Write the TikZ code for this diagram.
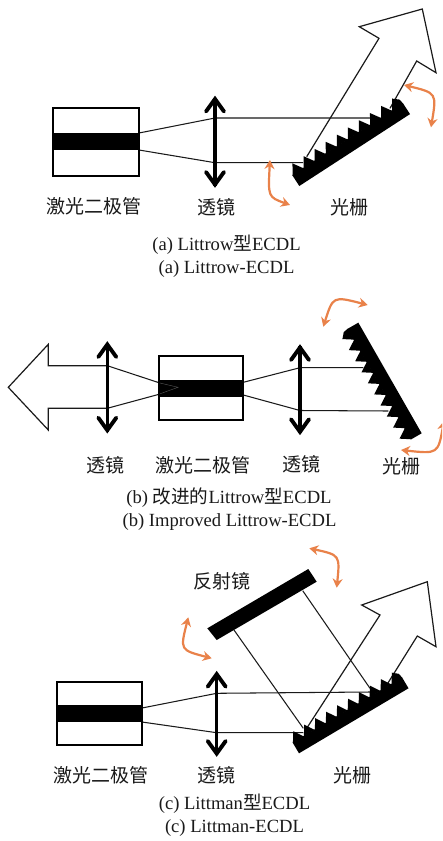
\documentclass[tikz,border=0pt]{standalone}
\usepackage{fontspec}
\setmainfont{Liberation Serif}
\newfontfamily\cjkfont{Noto Sans CJK SC}
\usetikzlibrary{arrows.meta}
\definecolor{swing}{HTML}{E9824A}
\definecolor{ink}{HTML}{1A1A1A}
\newcommand{\gratingat}[4]{% x, y, angle, scale
  \begin{scope}[shift={(#1,#2)},rotate=#3,scale=#4]
    \fill[black] (0,0) -- (132,0) -- (132,-13) -- (131,-18) -- (125.4,-22.7) -- (125,-13) -- (0,-13) -- cycle;
    \foreach \tipx in {6.6,19.8,33,46.2,59.4,72.6,85.8,99,112.2,125.4}{
      \fill[black] (\tipx-6.5,-12.5) -- (\tipx,-22.7) -- (\tipx+6.6,-12.5) -- cycle;
    }
  \end{scope}
}
\newcommand{\lensat}[3]{% x, top, bottom
  \draw[lensline] (#1,#2) -- (#1,#3);
  \draw[lenshead] (#1-9,#2+14) -- (#1,#2+1.5) -- (#1+9,#2+14);
  \draw[lenshead] (#1-9,#3-14) -- (#1,#3-1.5) -- (#1+9,#3-14);
}
\newcommand{\diodeat}[6]{% x0,y0,x1,y1,bandtop,bandbottom
  \fill[black] (#1,#5) rectangle (#3,#6);
  \draw[diode] (#1,#2) rectangle (#3,#4);
}
\tikzset{
  beam/.style={draw=ink,line width=1.05pt,line join=miter},
  outarrow/.style={draw=ink,line width=1.2pt,fill=white,line join=miter},
  lensline/.style={black,line width=3.2pt},
  lenshead/.style={black,line width=3.9pt,line cap=round,line join=miter},
  diode/.style={black,line width=2.2pt},
  swingarrow/.style={draw=swing,line width=2.2pt,{Stealth[length=9pt,width=10pt]}-{Stealth[length=9pt,width=10pt]}},
  zh/.style={font=\fontsize{19}{22}\cjkfont,text=ink,inner sep=0pt},
  captext/.style={font=\fontsize{18.6}{21}\selectfont,text=ink,inner sep=0pt},
}
\begin{document}
\begin{tikzpicture}[x=1pt,y=-1pt]
\clip (0,0) rectangle (442,841);
\fill[white] (0,0) rectangle (442,841);

% ---------- (a) ----------
\draw[outarrow] (306.7,156.7) -- (379,38.3) -- (359.3,26.7) -- (422.3,9) -- (436,72.7) -- (416.7,61) -- (390,108.3);
\draw[beam] (139,133) -- (215,118) -- (370,118);
\draw[beam] (139,150) -- (215,162.7) -- (303,162.7);
\gratingat{299.3}{186}{33}{1}
\diodeat{53}{108}{139}{176}{133}{150}
\lensat{215}{97.5}{186}
\draw[swingarrow] (290,205) .. controls (268,197) .. (270,160);
\draw[swingarrow] (404,85) .. controls (436.7,93) .. (431,127.3);
\node[zh] (a1) at (94,206) {激光二极管};
\node[zh] (a2) at (216,207) {透镜};
\node[zh] (a3) at (349,207.5) {光栅};
\node[captext] (a4) at (226.5,245) {(a) Littrow{\cjkfont 型}ECDL};
\node[captext] (a5) at (226.5,269) {(a) Littrow-ECDL};

% ---------- (b) ----------
\draw[outarrow] (107.3,365.7) -- (48.3,365.7) -- (48.3,344.3) -- (8.3,387.3) -- (48.3,430) -- (48.3,408.3) -- (107.3,408.3);
\draw[beam] (107.3,365.7) -- (159,382.7);
\draw[beam] (107.3,408.3) -- (159,394.3);
\draw[beam] (243.3,382.3) -- (300,367.7) -- (363.3,367.7);
\draw[beam] (243.3,395) -- (300,410.5) -- (388.3,411);
\gratingat{421.7}{433.3}{119.8}{0.966}
\diodeat{159.3}{355.7}{243.3}{420}{380}{396.7}
\draw[black!65,line width=0.4pt] (160,383) -- (178,387.3) -- (160,393.8);
\lensat{107.3}{343}{431.7}
\lensat{300}{346}{433.3}
\draw[swingarrow] (323.3,326.7) .. controls (333,296) .. (367.7,305);
\draw[swingarrow] (401,450) .. controls (438,454) .. (444,421);
\node[zh] (b1) at (105.7,465) {透镜};
\node[zh] (b2) at (202.7,465) {激光二极管};
\node[zh] (b3) at (301.7,464) {透镜};
\node[zh] (b4) at (401.7,466.7) {光栅};
\node[captext] (b5) at (229,498) {(b) {\cjkfont 改进的}Littrow{\cjkfont 型}ECDL};
\node[captext] (b6) at (229.5,522) {(b) Improved Littrow-ECDL};

% ---------- (c) ----------
\draw[outarrow] (306.7,728.3) -- (380,615) -- (361.7,605) -- (427.3,581.7) -- (436,646.7) -- (417.3,636) -- (386.7,685);
\draw[beam] (142,708) -- (216.7,693.3) -- (370,692);
\draw[beam] (142,722) -- (216.7,732.7) -- (303.3,732.7);
\draw[beam] (303.3,728.3) -- (234,630);
\draw[beam] (370,688.3) -- (302.7,590.7);
\gratingat{299}{753.3}{30.7}{0.965}
\fill[black] (207.3,628.3) -- (308.3,569) -- (316.7,581.7) -- (216.7,640) -- cycle;
\diodeat{57}{682}{142}{745}{705}{722}
\lensat{216.7}{672.7}{755}
\draw[swingarrow] (309.3,548.3) .. controls (340,555) .. (336.7,587.7);
\draw[swingarrow] (188.3,617.3) .. controls (180,650) .. (211.7,658.3);
\node[zh] (c1) at (222.3,581.7) {反射镜};
\node[zh] (c2) at (100.5,775) {激光二极管};
\node[zh] (c3) at (216,775) {透镜};
\node[zh] (c4) at (352,775) {光栅};
\node[captext] (c5) at (234.5,804) {(c) Littman{\cjkfont 型}ECDL};
\node[captext] (c6) at (234.5,828) {(c) Littman-ECDL};
\end{tikzpicture}
\end{document}
